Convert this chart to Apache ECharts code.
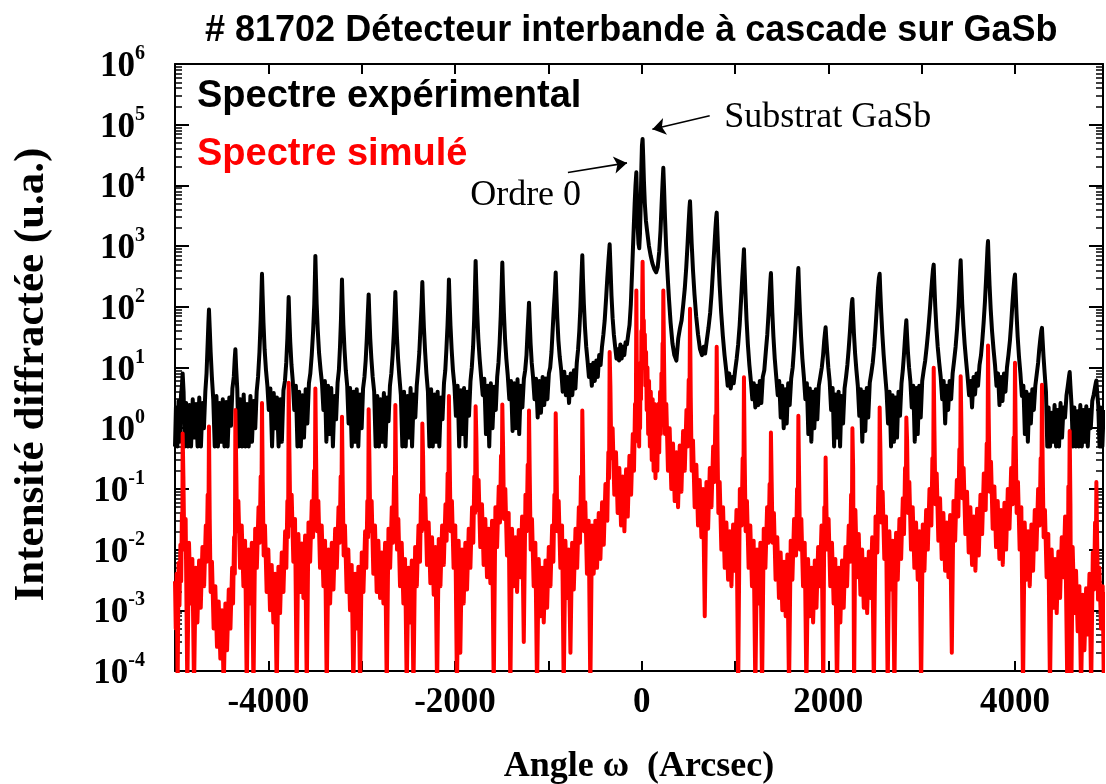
<!DOCTYPE html>
<html>
<head>
<meta charset="utf-8">
<script src="https://cdn.jsdelivr.net/npm/echarts@6/dist/echarts.min.js"></script>
<style>
  html, body { margin: 0; padding: 0; background: #fff; }
  #chart { width: 1106px; height: 784px; }
</style>
</head>
<body>
<div id="chart"></div>
<script>
// HRXRD rocking curve, sample #81702: measured and simulated intensity (u.a.) vs angle ω (arcsec)

const chartTitle = '# 81702 Détecteur interbande à cascade sur GaSb';
const seriesNames = ['Spectre expérimental', 'Spectre simulé'];
const xTickLabels = [-4000, -2000, 0, 2000, 4000];
const yDecades = [-4, -3, -2, -1, 0, 1, 2, 3, 4, 5, 6];

// Measured spectrum: [angle, intensity]
const expLeft = [
  [-5000,0.5],[-4990,2.2],[-4975,0.5],[-4962,2.8],[-4948,0.6],[-4936,3.5],[-4926,5],[-4918,8],[-4908,4],[-4895,0.5],
  [-4880,2.6],[-4862,0.5],[-4845,2.4],[-4828,0.5],[-4810,3],[-4792,0.7],[-4775,2.5],[-4758,0.5],[-4740,3.2],[-4722,0.5],
  [-4705,2.6],[-4690,1],[-4675,4],[-4662,8],[-4650,25],[-4642,55],[-4636,90],[-4628,45],[-4618,18],[-4605,7],[-4590,3],
  [-4574,0.5],[-4556,3.4],[-4540,0.5],[-4522,2.6],[-4505,0.6],[-4488,3],[-4470,0.5],[-4452,2.7],[-4436,0.5],[-4418,3.2],
  [-4400,1.1],[-4385,4.5],[-4370,7],[-4360,14],[-4353,20],[-4345,10],[-4333,4.5],[-4318,0.5],[-4300,3],[-4282,0.5],
  [-4264,3.6],[-4246,0.5],[-4228,2.5],[-4210,0.5],[-4192,3.4],[-4175,0.6],[-4158,2.8],[-4140,1],[-4125,4],[-4110,7],
  [-4095,18],[-4082,60],[-4074,160],[-4068,350],[-4061,150],[-4052,55],[-4040,20],[-4025,9],[-4010,5],[-3995,2],
  [-3978,4.5],[-3960,0.5],[-3942,3.8],[-3925,1],[-3908,3.2],[-3890,0.5],[-3872,3],[-3855,0.6],[-3838,4.2],[-3822,6],
  [-3808,12],[-3796,30],[-3788,70],[-3782,145],[-3775,65],[-3765,26],[-3752,11],[-3738,6],[-3722,2],[-3705,5],
  [-3688,0.5],[-3670,4],[-3652,0.5],[-3635,3.5],[-3618,0.7],[-3600,4.4],[-3582,1.2],[-3565,5.5],[-3550,8],[-3535,16],
  [-3520,40],[-3508,110],[-3501,300],[-3496,690],[-3490,300],[-3482,110],[-3470,40],[-3456,17],[-3440,9],[-3425,5.5],
  [-3410,2],[-3394,6],[-3378,0.6],[-3360,5],[-3343,0.8],[-3326,4.6],[-3308,0.5],[-3290,3.4],[-3274,1.4],[-3258,5.6],
  [-3244,9],[-3232,22],[-3222,60],[-3216,140],[-3211,283],[-3205,130],[-3196,50],[-3184,20],[-3170,9],[-3155,5],
  [-3140,1.2],[-3124,4.6],[-3106,0.5],[-3088,4],[-3070,0.6],[-3053,4.4],[-3036,0.5],[-3018,3.6],[-3000,1],[-2985,4.5],
  [-2970,7],[-2957,13],[-2945,30],[-2935,70],[-2925,160],[-2918,75],[-2908,30],[-2896,14],[-2882,7],[-2866,4],
  [-2850,0.5],[-2832,3.4],[-2815,0.5],[-2798,3],[-2780,0.6],[-2762,3.8],[-2745,0.5],[-2728,3.2],[-2712,1.3],[-2697,5],
  [-2682,8],[-2668,16],[-2655,38],[-2646,85],[-2639,175],[-2632,80],[-2622,32],[-2610,14],[-2596,7],[-2580,3.5],
  [-2564,0.5],[-2546,4],[-2528,0.5],[-2510,3.4],[-2493,0.7],[-2476,4.6],[-2460,0.5],[-2442,3.6],[-2425,1.5],[-2410,5],
  [-2396,9],[-2382,18],[-2370,45],[-2358,110],[-2350,255],[-2343,115],[-2333,45],[-2320,18],[-2306,8],[-2290,4],
  [-2274,0.5],[-2256,4.4],[-2238,0.5],[-2220,3.6],[-2203,0.6],[-2186,4],[-2168,0.5],[-2150,3.2],[-2134,1.4],[-2118,5.5],
  [-2104,9],[-2092,20],[-2080,50],[-2071,120],[-2065,283],[-2058,125],[-2048,48],[-2036,20],[-2022,9],[-2006,5]
];
const expMid = [
  [-1990,1.6],[-1972,5],[-1955,0.5],[-1938,4.2],[-1920,0.8],[-1903,4.6],[-1886,0.5],[-1868,4],[-1850,1.6],[-1834,6],
  [-1820,10],[-1806,22],[-1795,60],[-1786,200],[-1779,570],[-1772,230],[-1762,80],[-1750,30],[-1736,14],[-1720,7],
  [-1703,3.5],[-1686,6.5],[-1668,0.8],[-1650,5],[-1633,0.5],[-1616,5.5],[-1598,1],[-1580,4.8],[-1563,2],[-1548,7],
  [-1534,12],[-1522,25],[-1510,70],[-1500,220],[-1493,535],[-1486,220],[-1476,80],[-1464,30],[-1450,14],[-1435,7.5],
  [-1418,3],[-1400,6],[-1383,0.9],[-1366,5.5],[-1348,1],[-1330,6.4],[-1312,0.8],[-1295,5],[-1278,2.2],[-1262,6.5],
  [-1248,9],[-1234,16],[-1222,40],[-1213,75],[-1207,117],[-1200,60],[-1190,25],[-1178,12],[-1164,7],[-1148,3],
  [-1131,6.5],[-1114,1.5],[-1096,6],[-1079,1.8],[-1061,7],[-1044,2.4],[-1027,6.6],[-1010,3],[-994,8],[-980,10],
  [-966,18],[-954,40],[-942,90],[-930,180],[-921,366],[-914,170],[-904,65],[-892,28],[-878,15],[-862,9],
  [-846,4],[-829,8.5],[-812,3.5],[-795,7],[-778,2.6],[-760,8],[-743,3.5],[-726,9],[-710,4.5],[-695,12],
  [-681,20],[-668,40],[-656,100],[-646,280],[-636,705],[-629,290],[-619,110],[-607,45],[-594,22],[-580,13],
  [-565,7],[-550,11],[-534,5],[-518,12],[-502,6],[-486,13],[-470,7],[-455,16],[-440,11],[-425,22],
  [-410,35],[-396,60],[-382,130],[-368,300],[-355,600],[-343,1070],[-334,450],[-323,150],[-311,65],[-298,35],
  [-284,22],[-270,14],[-256,20],[-242,13],[-228,24],[-214,14],[-200,22],[-186,16],[-172,26],[-158,24],
  [-144,35],[-130,50],[-116,110],[-102,400],[-88,1500],[-75,5000],[-66,10000],[-57,16400],[-50,6000],[-42,2000],
  [-34,1100],[-26,920],[-18,1600],[-10,5000],[-3,20000],[3,45000],[10,58000],[16,32000],[24,12000],[34,5000],
  [46,2600],[60,1700],[78,1000],[96,700],[115,520],[135,420],[155,370],[172,450],[188,800],[202,1800],
  [214,5000],[224,11000],[232,19500],[240,9000],[250,3000],[262,1000],[276,380],[292,140],[310,55],[330,25],
  [350,16],[372,13],[392,30],[410,44],[428,60],[446,110],[462,200],[478,450],[492,1100],[504,2500],
  [512,4200],[518,5500],[525,3000],[536,1100],[550,400],[566,160],[584,70],[604,35],[625,20],[646,16],
  [664,22],[680,17],[698,28],[716,45],[734,80],[750,170],[764,400],[778,900],[790,1900],[798,2900],[804,3560]
];
const expRight = [
  [811,1800],[822,650],[836,220],[852,80],[870,33],[888,16],[906,9],[922,5],[938,8],[954,4.5],
  [970,7],[986,5.5],[1002,9],[1018,14],[1034,24],[1050,50],[1064,120],[1078,300],[1090,600],[1096,890],
  [1102,450],[1112,170],[1124,60],[1138,24],[1154,11],[1170,6],[1186,3],[1202,5.5],[1218,2.2],[1234,5],
  [1250,2.4],[1266,6],[1282,2.6],[1298,7],[1314,9],[1330,18],[1346,35],[1360,80],[1372,170],[1380,280],
  [1385,360],[1391,200],[1400,80],[1412,32],[1426,14],[1442,7],[1458,3.5],[1474,6],[1490,1.5],[1506,5],
  [1522,1],[1538,4.4],[1554,1.2],[1570,5.5],[1586,2.4],[1602,6.5],[1618,10],[1632,20],[1646,45],[1658,100],
  [1668,220],[1674,330],[1679,435],[1686,200],[1696,80],[1708,32],[1722,14],[1738,7],[1754,3],[1770,5.5],
  [1786,0.8],[1802,4.5],[1818,0.6],[1834,4],[1850,1],[1866,4.4],[1882,1.4],[1898,5],[1914,7],[1930,10],
  [1944,16],[1956,28],[1965,38],[1971,46],[1978,30],[1988,18],[2000,10],[2014,6],[2030,2],[2046,4.6],
  [2062,0.5],[2078,3.6],[2094,0.7],[2110,4],[2126,0.5],[2142,3.4],[2158,1.2],[2174,4.5],[2190,7],[2204,11],
  [2218,20],[2232,40],[2244,80],[2252,115],[2258,135],[2265,75],[2275,35],[2287,17],[2301,9],[2316,5],
  [2332,1.6],[2348,4.4],[2364,0.6],[2380,4],[2396,0.9],[2412,4.6],[2428,1.5],[2444,5.6],[2460,8],[2476,12],
  [2492,22],[2506,45],[2520,100],[2532,200],[2542,300],[2550,350],[2557,180],[2567,80],[2579,35],[2593,16],
  [2608,8],[2624,4],[2640,1.2],[2656,4],[2672,0.5],[2688,3.5],[2704,0.6],[2720,3.2],[2736,0.7],[2752,4],
  [2768,1.6],[2784,5.5],[2798,9],[2810,16],[2820,28],[2829,45],[2836,60],[2843,35],[2853,18],[2865,10],
  [2879,6],[2894,2.2],[2910,5],[2926,0.6],[2942,4.6],[2958,0.8],[2974,5],[2990,1.5],[3006,6],[3022,9],
  [3038,13],[3054,22],[3070,40],[3086,80],[3100,160],[3112,280],[3122,420],[3129,495],[3136,240],[3146,100],
  [3158,45],[3172,22],[3188,12],[3204,7],[3220,3],[3236,6],[3252,1.2],[3268,5],[3284,2],[3300,6],
  [3316,3],[3332,8],[3348,13],[3364,22],[3380,45],[3394,100],[3405,230],[3413,420],[3418,585],[3425,280],
  [3435,110],[3447,50],[3461,24],[3476,13],[3492,7],[3508,3.5],[3524,6],[3540,2.2],[3556,7],[3572,3.6],
  [3588,8],[3604,5],[3620,11],[3636,16],[3650,28],[3664,55],[3678,120],[3690,280],[3700,600],[3706,950],
  [3711,1210],[3718,550],[3728,220],[3740,90],[3754,40],[3770,20],[3786,11],[3802,5],[3818,8],[3834,2.4],
  [3850,7],[3866,2.8],[3882,8],[3898,4],[3914,10],[3930,16],[3946,28],[3960,55],[3972,110],[3984,200],
  [3993,290],[4000,340],[4007,180],[4017,75],[4029,32],[4043,15],[4058,8],[4074,3.4],[4090,5],[4106,0.8],
  [4122,4],[4138,0.6],[4154,3.6],[4170,1.2],[4186,4.4],[4202,2],[4218,5],[4234,8],[4248,12],[4260,20],
  [4272,30],[4282,40],[4289,45],[4296,28],[4306,15],[4318,8],[4332,4],[4346,0.5],[4360,2.2],[4376,0.5],
  [4392,1.8],[4408,0.6],[4424,2.4],[4440,0.5],[4456,2],[4472,0.5],[4488,2.6],[4504,0.7],[4520,2.2],[4536,1.5],
  [4552,3.5],[4566,5],[4578,7],[4586,8.4],[4594,5],[4606,2.4],[4620,0.5],[4636,2.2],[4652,0.5],[4668,1.9],
  [4684,0.5],[4700,2.4],[4716,0.5],[4732,2],[4748,0.6],[4764,2.3],[4780,0.5],[4796,2],[4812,1],[4828,2.8],
  [4844,3.6],[4858,4.8],[4866,5.6],[4872,6.1],[4880,4],[4892,2.4],[4906,0.5],[4920,2.2],[4936,0.5],[4950,2]
];

// Simulated spectrum: [angle, intensity]
const simLeft = [
  [-5000,3e-3],[-4992,5e-4],[-4982,4e-3],[-4972,5e-5],[-4962,6e-3],[-4952,1.2e-3],[-4942,1.2e-2],[-4934,3e-3],[-4926,4e-2],[-4922,1.2e-2],[-4918,0.82],
  [-4910,0.16],[-4900,1e-2],[-4886,3.2e-2],[-4868,5e-5],[-4850,1.3e-2],[-4832,1.3e-3],[-4814,7e-3],[-4796,5e-5],[-4778,5e-3],[-4760,6.3e-4],[-4742,6.6e-3],[-4724,1.1e-3],[-4706,1.1e-2],[-4688,2.5e-3],[-4670,2.5e-2],[-4661,6.3e-3],[-4650,8e-2],[-4642,2e-2],[-4636,1.07],
  [-4628,3.2e-2],[-4618,2e-3],[-4604,6.3e-3],[-4586,5e-4],[-4568,2.5e-3],[-4550,2.5e-4],[-4532,1.4e-3],[-4514,1.6e-4],[-4496,1e-3],[-4478,5e-5],[-4460,1.3e-3],[-4442,2.2e-4],[-4424,2.2e-3],[-4406,5e-4],[-4388,5e-3],[-4378,1.3e-3],[-4367,1.6e-2],[-4359,4e-3],[-4353,2.0],
  [-4345,0.32],[-4335,2e-2],[-4321,6.3e-2],[-4303,5e-3],[-4285,2.5e-2],[-4267,2.5e-3],[-4249,1.4e-2],[-4231,5e-5],[-4213,1e-2],[-4195,1.3e-3],[-4177,1.3e-2],[-4159,5e-5],[-4141,2.2e-2],[-4123,5e-3],[-4105,5e-2],[-4093,1.3e-2],[-4082,0.16],[-4074,4e-2],[-4068,2.6],
  [-4060,0.13],[-4050,8e-3],[-4036,2.5e-2],[-4018,2e-3],[-4000,1e-2],[-3982,1e-3],[-3964,5.6e-3],[-3946,6.3e-4],[-3928,4e-3],[-3910,5e-5],[-3892,5.2e-3],[-3874,9e-4],[-3856,9e-3],[-3838,2e-3],[-3820,2e-2],[-3807,5e-3],[-3796,6.3e-2],[-3788,1.6e-2],[-3782,5.6],
  [-3774,0.4],[-3764,2.5e-2],[-3750,8e-2],[-3732,6.3e-3],[-3714,3.2e-2],[-3696,5e-5],[-3678,1.8e-2],[-3660,2e-3],[-3642,1.26e-2],[-3624,1.6e-3],[-3606,1.7e-2],[-3588,5e-5],[-3570,2.8e-2],[-3552,6.3e-3],[-3534,6.3e-2],[-3521,1.6e-2],[-3510,0.2],[-3502,5e-2],[-3496,4.5],
  [-3488,0.32],[-3478,2e-2],[-3464,6.3e-2],[-3446,5e-3],[-3428,2.5e-2],[-3410,2.5e-3],[-3392,1.4e-2],[-3374,5e-5],[-3356,1e-2],[-3338,1.3e-3],[-3320,1.3e-2],[-3302,2.2e-3],[-3284,2.2e-2],[-3266,5e-3],[-3248,5e-2],[-3236,1.3e-2],[-3225,0.16],[-3217,4e-2],[-3211,1.55],
  [-3203,0.13],[-3193,8e-3],[-3179,2.5e-2],[-3161,2e-3],[-3143,1e-2],[-3125,1e-3],[-3107,5.6e-3],[-3089,5e-5],[-3071,4e-3],[-3053,5e-4],[-3035,5.2e-3],[-3017,5e-5],[-2999,9e-3],[-2981,2e-3],[-2963,2e-2],[-2950,5e-3],[-2939,6.3e-2],[-2931,1.6e-2],[-2925,2.05],
  [-2917,0.32],[-2907,2e-2],[-2893,6.3e-2],[-2875,4e-3],[-2857,2.5e-2],[-2839,2e-3],[-2821,1.4e-2],[-2803,1.6e-3],[-2785,9e-3],[-2767,1.3e-3],[-2749,1.3e-2],[-2731,5e-5],[-2713,2.2e-2],[-2695,5e-3],[-2677,5e-2],[-2664,1.3e-2],[-2653,0.16],[-2645,4e-2],[-2639,2.4],
  [-2631,0.16],[-2621,1e-2],[-2607,3.2e-2],[-2589,2.5e-3],[-2571,1.3e-2],[-2553,1.3e-3],[-2535,7e-3],[-2517,5e-5],[-2499,5e-3],[-2481,6.3e-4],[-2463,6.6e-3],[-2445,5e-5],[-2427,1.1e-2],[-2409,2.5e-3],[-2391,2.5e-2],[-2375,6.3e-3],[-2364,8e-2],[-2356,2e-2],[-2350,1.2],
  [-2342,0.35],[-2332,2.2e-2],[-2318,7e-2],[-2300,5.6e-3],[-2282,2.8e-2],[-2264,2.8e-3],[-2246,1.6e-2],[-2228,1.8e-3],[-2210,1.1e-2],[-2192,5e-5],[-2174,1.5e-2],[-2156,2.5e-3],[-2138,2.5e-2],[-2120,5.6e-3],[-2102,5.6e-2],[-2090,1.4e-2],[-2079,0.18],[-2071,4.5e-2],[-2065,3.4]
];
const simMid = [
  [-2057,0.32],[-2047,2e-2],[-2033,6.3e-2],[-2015,5e-3],[-1997,2.5e-2],[-1979,5e-5],[-1961,1.4e-2],[-1943,2e-4],[-1925,1e-2],[-1907,1.3e-3],[-1889,1.3e-2],[-1871,2.2e-3],[-1853,2.2e-2],[-1835,5e-3],[-1817,5e-2],[-1804,1.3e-2],[-1793,0.16],[-1785,4e-2],[-1779,2.3],
  [-1771,0.7],[-1761,4.5e-2],[-1747,0.14],[-1729,1.1e-2],[-1711,5.6e-2],[-1693,5.6e-3],[-1675,3.2e-2],[-1657,3.5e-3],[-1639,2.2e-2],[-1621,2.8e-3],[-1603,3e-2],[-1585,5e-5],[-1567,5e-2],[-1549,1.1e-2],[-1531,0.11],[-1518,2.8e-2],[-1507,0.35],[-1499,9e-2],[-1493,2.45],
  [-1485,0.5],[-1475,3.2e-2],[-1461,0.1],[-1443,8e-3],[-1425,4e-2],[-1407,5e-5],[-1389,2.2e-2],[-1371,2.5e-3],[-1353,1.6e-2],[-1335,2e-3],[-1317,2.1e-2],[-1299,3.5e-3],[-1281,3.5e-2],[-1263,3e-4],[-1245,8e-2],[-1232,2e-2],[-1221,0.25],[-1213,6.3e-2],[-1207,1.95],
  [-1199,0.16],[-1189,1e-2],[-1175,3.2e-2],[-1157,2.5e-3],[-1139,1.3e-2],[-1121,5e-5],[-1103,7e-3],[-1085,8e-4],[-1067,5e-3],[-1049,6.3e-4],[-1031,6.6e-3],[-1013,1.1e-3],[-995,1.1e-2],[-977,2.5e-3],[-959,2.5e-2],[-946,6.3e-3],[-935,8e-2],[-927,2e-2],[-921,1.76],
  [-913,0.32],[-903,2e-2],[-889,6.3e-2],[-871,5e-3],[-853,2.5e-2],[-835,5e-5],[-817,1.4e-2],[-799,1.6e-3],[-781,1e-2],[-763,2e-4],[-745,1.3e-2],[-727,2.2e-3],[-709,2.2e-2],[-691,5e-3],[-673,5e-2],[-661,1.3e-2],[-650,0.16],[-642,4e-2],[-636,1.95],
  [-628,0.3],[-618,2e-2],[-604,6e-2],[-586,4e-3],[-568,3e-2],[-550,5e-5],[-532,2.5e-2],[-514,4e-3],[-496,3e-2],[-478,5e-3],[-460,4e-2],[-442,7e-3],[-424,6e-2],[-406,1.2e-2],[-388,0.12],[-368,3e-2],[-357,0.4],[-349,0.15],[-343,18],
  [-335,5],[-325,0.32],[-311,1],[-293,8e-2],[-275,0.4],[-257,4e-2],[-239,0.22],[-221,2.5e-2],[-203,0.16],[-185,2e-2],[-167,0.21],[-149,3.5e-2],[-131,0.35],[-113,8e-2],[-95,0.8],[-82,0.2],[-71,2.5],[-63,0.63],[-57,186],
  [-52,10],[-47,1],[-42,5],[-37,0.6],[-32,4],[-27,0.5],[-22,6],[-17,1],[-12,12],[-7,3],[-3,40],[2,10],[6,150],[10,550],
  [14,120],[18,25],[23,60],[28,10],[34,35],[40,5],[47,18],[54,2],[62,10],[70,0.8],[79,6],[88,0.5],[98,4],[108,0.3],[118,3],[128,0.2],[138,2.5],[148,0.15],[158,2],[168,0.2],[178,2.5],[188,0.4],[197,4],[205,0.8],[212,8],[218,2],[224,25],[228,7],[232,186],
  [240,12.6],[250,0.8],[264,2.5],[282,0.2],[300,1],[318,0.1],[336,0.56],[354,6.3e-2],[372,0.4],[390,5e-2],[408,0.52],[426,9e-2],[444,0.9],[462,0.2],[480,2],[493,0.5],[504,6.3],[512,1.6],[518,93],
  [526,3.2],[536,0.2],[550,0.63],[568,5e-2],[586,0.25],[604,2.5e-2],[622,0.14],[640,1.6e-2],[658,0.1],[676,8e-4],[694,0.13],[712,2.2e-2],[730,0.22],[748,5e-2],[766,0.5],[779,0.13],[790,1.6],[798,0.4],[804,22]
];
const simRight = [
  [812,0.63],[822,4e-2],[836,0.13],[854,1e-2],[872,5e-2],[890,5e-3],[908,2.8e-2],[926,3.2e-3],[944,2e-2],[962,2.5e-3],[980,2.6e-2],[998,4.5e-3],[1016,4.5e-2],[1034,5e-5],[1052,0.1],[1071,2.5e-2],[1082,0.32],[1090,8e-2],[1096,6.9],
  [1104,0.32],[1114,2e-2],[1128,6.3e-2],[1146,5e-3],[1164,2.5e-2],[1182,2.5e-3],[1200,1.4e-2],[1218,5e-5],[1236,1e-2],[1254,1.3e-3],[1272,1.3e-2],[1290,5e-5],[1308,2.2e-2],[1326,5e-3],[1344,5e-2],[1360,1.3e-2],[1371,0.12],[1379,3e-2],[1385,0.85],
  [1393,0.13],[1403,1.3e-2],[1417,4e-2],[1435,3.2e-3],[1453,1.6e-2],[1471,1.6e-3],[1489,9e-3],[1507,1e-3],[1525,6.3e-3],[1543,8e-4],[1561,8.3e-3],[1579,5e-5],[1597,1.4e-2],[1615,3.2e-3],[1633,3.2e-2],[1654,8e-3],[1665,0.1],[1673,2.5e-2],[1679,1.6],
  [1687,0.16],[1697,1e-2],[1711,3.2e-2],[1729,2.5e-3],[1747,1.3e-2],[1765,5e-5],[1783,7e-3],[1801,8e-4],[1819,5e-3],[1837,6.3e-4],[1855,6.6e-3],[1873,1.1e-3],[1891,1.1e-2],[1909,2.5e-3],[1927,2.5e-2],[1946,5e-5],[1957,5e-2],[1965,1.5e-2],[1971,0.33],
  [1979,5e-2],[1989,1e-2],[2003,3.2e-2],[2021,2.5e-3],[2039,1.3e-2],[2057,1.3e-3],[2075,7e-3],[2093,5e-5],[2111,5e-3],[2129,6.3e-4],[2147,6.6e-3],[2165,1.1e-3],[2183,1.1e-2],[2201,2.5e-3],[2219,2.5e-2],[2233,6.3e-3],[2244,8e-2],[2252,2e-2],[2258,1.0],
  [2266,0.22],[2276,5e-5],[2290,4.5e-2],[2308,3.5e-3],[2326,1.8e-2],[2344,1.8e-3],[2362,1e-2],[2380,1.1e-3],[2398,7e-3],[2416,9e-4],[2434,9.3e-3],[2452,1.6e-3],[2470,1.6e-2],[2488,5e-5],[2506,3.5e-2],[2525,9e-3],[2536,0.11],[2544,2.8e-2],[2550,2.2],
  [2558,0.45],[2568,2.8e-2],[2582,9e-2],[2600,7e-3],[2618,3.5e-2],[2636,5e-5],[2654,2e-2],[2672,2.2e-3],[2690,1.4e-2],[2708,5e-5],[2726,1.9e-2],[2744,3.2e-3],[2762,3.2e-2],[2780,7e-3],[2798,7e-2],[2811,1.8e-2],[2822,0.22],[2830,5.6e-2],[2836,1.5],
  [2844,0.63],[2854,4e-2],[2868,0.13],[2886,1e-2],[2904,5e-2],[2922,5e-3],[2940,2.8e-2],[2958,3.2e-3],[2976,2e-2],[2994,5e-5],[3012,2.6e-2],[3030,4.5e-3],[3048,4.5e-2],[3066,1e-2],[3084,0.1],[3104,2.5e-2],[3115,0.32],[3123,8e-2],[3129,9.9],
  [3137,0.9],[3147,5.6e-2],[3161,0.18],[3179,1.4e-2],[3197,7e-2],[3215,7e-3],[3233,4e-2],[3251,4.5e-3],[3269,2.8e-2],[3287,3.5e-3],[3305,3.7e-2],[3323,2e-4],[3341,6.3e-2],[3359,1.4e-2],[3377,0.14],[3393,3.5e-2],[3404,0.45],[3412,0.11],[3418,7.2],
  [3426,1.1],[3436,7e-2],[3450,0.22],[3468,1.8e-2],[3486,9e-2],[3504,9e-3],[3522,5e-2],[3540,5.6e-3],[3558,3.5e-2],[3576,4.5e-3],[3594,4.7e-2],[3612,8e-3],[3630,8e-2],[3648,1.8e-2],[3666,0.18],[3686,4.5e-2],[3697,0.56],[3705,0.14],[3711,23],
  [3719,1.4],[3729,9e-2],[3743,0.28],[3761,2.2e-2],[3779,0.11],[3797,1.1e-2],[3815,6.3e-2],[3833,7e-3],[3851,4.5e-2],[3869,5.6e-3],[3887,5.9e-2],[3905,1e-2],[3923,0.1],[3941,2.2e-2],[3959,0.22],[3975,5.6e-2],[3986,0.7],[3994,0.18],[4000,12],
  [4008,0.63],[4018,4e-2],[4032,0.13],[4050,1e-2],[4068,5e-2],[4086,5e-5],[4104,2.8e-2],[4122,3.2e-3],[4140,2e-2],[4158,2.5e-3],[4176,2.6e-2],[4194,4.5e-3],[4212,4.5e-2],[4230,1e-2],[4248,0.1],[4264,2.5e-2],[4275,0.32],[4283,8e-2],[4289,5.2],
  [4297,0.22],[4307,1.6e-2],[4321,4.5e-2],[4339,3.5e-3],[4357,1.8e-2],[4375,5e-5],[4393,1e-2],[4411,1.1e-3],[4429,7e-3],[4447,9e-4],[4465,9.3e-3],[4483,1.6e-3],[4501,1.6e-2],[4519,3.5e-3],[4537,3.5e-2],[4561,5e-5],[4572,0.11],[4580,2.8e-2],[4586,0.9],
  [4594,5.6e-2],[4604,5e-5],[4618,1.1e-2],[4636,9e-4],[4654,4.5e-3],[4672,4.5e-4],[4690,2.5e-3],[4708,5e-5],[4726,1.8e-3],[4744,2.2e-4],[4762,2.3e-3],[4780,4e-4],[4798,4e-3],[4816,5e-5],[4834,9e-3],[4847,2.2e-3],[4858,2.8e-2],[4866,7e-3],[4872,0.13],
  [4880,1.5e-2],[4890,1.5e-3],[4904,5e-3],[4922,5e-4],[4940,2.5e-3],[4952,5e-5],[4960,2e-3]
];

// Annotations: label anchor [angle, intensity] and arrow [from, to]
const substrateLabel = { text: 'Substrat GaSb', at: [879, 1.3e5] };
const substrateArrow = [[729, 1.4e5], [115, 8.4e4]];
const order0Label = { text: 'Ordre 0', at: [-1843, 6.9e3] };
const order0Arrow = [[-790, 1.63e4], [-157, 2.35e4]];

const experimental = expLeft.concat(expMid, expRight);
const simulated = simLeft.concat(simMid, simRight);

// minor tick positions of the decade scale (2..9 within each decade), in log10 units
const minorLogTicks = [];
for (let d = -4; d < 6; d++) {
  for (let k = 2; k <= 9; k++) minorLogTicks.push(d + Math.log10(k));
}

const SERIF = '"Liberation Serif", "Times New Roman", serif';
const SANS = '"Liberation Sans", Arial, sans-serif';
const axisLineStyle = { color: '#000', width: 2 };

const chart = echarts.init(document.getElementById('chart'), null, { renderer: 'canvas' });

const decadeAxisBase = {
  type: 'value', min: -4, max: 6, gridIndex: 0,
  splitLine: { show: false }
};

chart.setOption({
  animation: false,
  backgroundColor: '#fff',
  title: {
    text: chartTitle,
    left: 205, top: 13, padding: 0,
    textStyle: { fontFamily: SANS, fontWeight: 'bold', fontSize: 36, color: '#000' }
  },
  legend: {
    orient: 'vertical', left: 192, top: 76, padding: 0,
    icon: 'none', itemWidth: 0, itemHeight: 0, itemGap: 17,
    selectedMode: false,
    textStyle: { fontFamily: SANS, fontWeight: 'bold', fontSize: 38, lineHeight: 41 },
    data: [
      { name: seriesNames[0], textStyle: { color: '#000' } },
      { name: seriesNames[1], textStyle: { color: '#ff0000' } }
    ]
  },
  grid: { left: 175, right: 3, top: 64, bottom: 113, containLabel: false, outerBoundsMode: 'none' },
  xAxis: [
    {
      type: 'value', min: -5000, max: 4943, interval: 1000, position: 'bottom',
      name: 'Angle ω  (Arcsec)', nameLocation: 'middle', nameGap: 78,
      nameTextStyle: { fontFamily: SERIF, fontWeight: 'bold', fontSize: 36, color: '#000' },
      axisLine: { show: true, onZero: false, lineStyle: axisLineStyle },
      axisTick: { show: true, inside: true, length: 10, lineStyle: axisLineStyle },
      axisLabel: {
        margin: 14, color: '#000', fontFamily: SERIF, fontWeight: 'bold', fontSize: 35,
        formatter: v => (xTickLabels.indexOf(v) >= 0 ? String(v) : '')
      },
      splitLine: { show: false }
    },
    {
      type: 'value', min: -5000, max: 4943, interval: 1000, position: 'top',
      axisLine: { show: true, onZero: false, lineStyle: axisLineStyle },
      axisTick: { show: true, inside: true, length: 10, lineStyle: axisLineStyle },
      axisLabel: { show: false },
      splitLine: { show: false }
    }
  ],
  yAxis: [
    // intensity scale carrying both spectra
    { type: 'log', logBase: 10, min: 1e-4, max: 1e6, show: false },
    // decade labels and major ticks, left
    Object.assign({}, decadeAxisBase, {
      position: 'left', interval: 1,
      name: 'Intensité diffractée (u.a.)', nameLocation: 'middle', nameGap: 122,
      nameTextStyle: { fontFamily: SERIF, fontWeight: 'bold', fontSize: 43, color: '#000', padding: [0, 14, 0, 0] },
      axisLine: { show: true, onZero: false, lineStyle: axisLineStyle },
      axisTick: { show: true, inside: true, length: 14, lineStyle: axisLineStyle },
      axisLabel: {
        margin: 30, padding: [6, 0, 0, 0],
        formatter: v => (yDecades.indexOf(v) >= 0 ? '{b|10}{e|' + v + '}' : ''),
        rich: {
          b: { fontFamily: SERIF, fontWeight: 'bold', fontSize: 35, lineHeight: 46, color: '#000' },
          e: { fontFamily: SERIF, fontWeight: 'bold', fontSize: 20, color: '#000', verticalAlign: 'top' }
        }
      }
    }),
    // minor ticks, left
    Object.assign({}, decadeAxisBase, {
      position: 'left',
      axisLine: { show: false, onZero: false },
      axisTick: { show: true, inside: true, length: 7, customValues: minorLogTicks, lineStyle: { color: '#000', width: 1.5 } },
      axisLabel: { show: false }
    }),
    // major ticks, right
    Object.assign({}, decadeAxisBase, {
      position: 'right', interval: 1,
      axisLine: { show: true, onZero: false, lineStyle: axisLineStyle },
      axisTick: { show: true, inside: true, length: 14, lineStyle: axisLineStyle },
      axisLabel: { show: false }
    }),
    // minor ticks, right
    Object.assign({}, decadeAxisBase, {
      position: 'right',
      axisLine: { show: false, onZero: false },
      axisTick: { show: true, inside: true, length: 7, customValues: minorLogTicks, lineStyle: { color: '#000', width: 1.5 } },
      axisLabel: { show: false }
    })
  ],
  series: [
    {
      name: seriesNames[0], type: 'line', xAxisIndex: 0, yAxisIndex: 0,
      data: experimental, showSymbol: false, symbol: 'none', silent: true, clip: true,
      color: '#000', lineStyle: { color: '#000', width: 4, join: 'round' },
      markLine: {
        silent: true, symbol: ['none', 'arrow'], symbolSize: 13,
        label: { show: false },
        lineStyle: { color: '#000', width: 1.6, type: 'solid' },
        data: [
          [{ coord: substrateArrow[0] }, { coord: substrateArrow[1] }],
          [{ coord: order0Arrow[0] }, { coord: order0Arrow[1] }]
        ]
      },
      markPoint: {
        silent: true, symbol: 'circle', symbolSize: 1,
        itemStyle: { color: 'rgba(0,0,0,0)' },
        label: {
          show: true, position: 'right', distance: 0, color: '#000',
          fontFamily: SERIF, fontWeight: 'normal', fontSize: 36
        },
        data: [
          { coord: substrateLabel.at, label: { formatter: substrateLabel.text } },
          { coord: order0Label.at, label: { formatter: order0Label.text } }
        ]
      }
    },
    {
      name: seriesNames[1], type: 'line', xAxisIndex: 0, yAxisIndex: 0,
      data: simulated, showSymbol: false, symbol: 'none', silent: true, clip: true,
      color: '#ff0000', lineStyle: { color: '#ff0000', width: 4, join: 'round' }
    }
  ]
});
</script>
</body>
</html>
